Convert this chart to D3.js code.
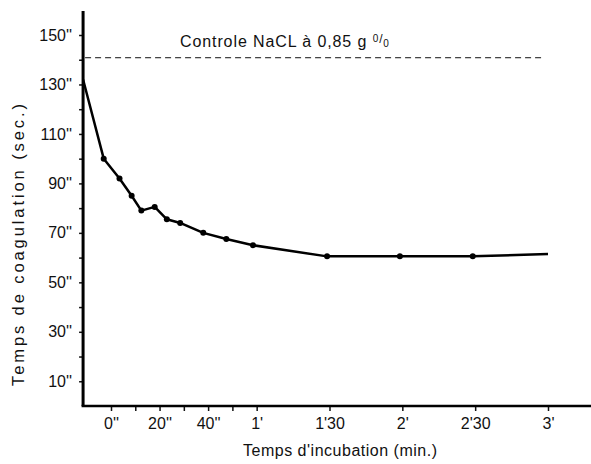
<!DOCTYPE html>
<html>
<head>
<meta charset="utf-8">
<script src="https://cdn.jsdelivr.net/npm/d3@7"></script>
<style>
  body { margin: 0; background: #fff; }
  text { font-family: "Liberation Sans", Arial, sans-serif; fill: #111; }
</style>
</head>
<body>
<script>
// incubation time in seconds, coagulation time in seconds
const times = [-11.5, -3, 3.5, 8.5, 12.5, 18, 23, 28.5, 38, 47.5, 58.5, 89, 119, 149, 180];
const coag = [132, 100, 92, 85, 79, 80.5, 75.5, 74, 70, 67.5, 65, 60.5, 60.5, 60.5, 61.5];
const control = 140;

const xTicks = [0, 10, 20, 30, 40, 50, 60, 90, 120, 150, 180];
const xLabels = { 0: "0''", 20: "20''", 40: "40''", 60: "1'", 90: "1'30", 120: "2'", 150: "2'30", 180: "3'" };
const yTicks = [10, 20, 30, 40, 50, 60, 70, 80, 90, 100, 110, 120, 130, 140, 150];
const yLabels = [10, 30, 50, 70, 90, 110, 130, 150];

const W = 591, H = 464;
const svg = d3.select('body').append('svg')
  .attr('width', W)
  .attr('height', H);

const x = d3.scaleLinear().domain([0, 180]).range([111, 548]);
const y = d3.scaleLinear().domain([0, 150]).range([406, 35]);
const x0 = x(-11.5);

// axes
const yAxis = svg.append('g')
  .attr('transform', `translate(${x0},0)`)
  .call(d3.axisLeft(y).tickValues(yTicks).tickSize(4)
    .tickFormat(d => yLabels.includes(d) ? d + "''" : ''));
yAxis.select('.domain').remove();
yAxis.selectAll('.tick line').attr('stroke', '#111').attr('stroke-width', 1.5);
yAxis.selectAll('.tick text').attr('x', -11).style('font-size', '16px');

const xAxis = svg.append('g')
  .attr('transform', `translate(0,${y(0)})`)
  .call(d3.axisBottom(x).tickValues(xTicks).tickSize(5)
    .tickFormat(d => xLabels[d] || ''));
xAxis.select('.domain').remove();
xAxis.selectAll('.tick line').attr('stroke', '#111').attr('stroke-width', 1.5);
xAxis.selectAll('.tick text').attr('y', 12).style('font-size', '16px');

// axis lines
svg.append('line')
  .attr('x1', x0).attr('x2', x0)
  .attr('y1', 11).attr('y2', y(0))
  .attr('stroke', '#000').attr('stroke-width', 3);
svg.append('line')
  .attr('x1', x0 - 1.5).attr('x2', W)
  .attr('y1', y(0)).attr('y2', y(0))
  .attr('stroke', '#000').attr('stroke-width', 2.5);

// control line
svg.append('line')
  .attr('x1', x0 + 2).attr('x2', x(178))
  .attr('y1', y(control) - 2).attr('y2', y(control) - 2)
  .attr('stroke', '#111').attr('stroke-width', 1)
  .attr('stroke-dasharray', '6,4');

const title = svg.append('text')
  .attr('x', 180).attr('y', 47)
  .style('font-size', '16px')
  .style('letter-spacing', '0.9px')
  .text('Controle NaCL à 0,85 g ');
title.append('tspan').attr('dy', -5).style('font-size', '10px').text('0');
title.append('tspan').attr('dy', 1).style('font-size', '12px').text('/');
title.append('tspan').attr('dy', 4).style('font-size', '10px').text('0');

// curve
const pts = times.map((t, i) => [t, coag[i]]);
svg.append('path')
  .datum(pts)
  .attr('fill', 'none')
  .attr('stroke', '#000')
  .attr('stroke-width', 2.5)
  .attr('stroke-linejoin', 'round')
  .attr('d', d3.line().x(d => x(d[0])).y(d => y(d[1])));

svg.selectAll('circle.pt')
  .data(pts.slice(1, -1))
  .enter()
  .append('circle')
  .attr('class', 'pt')
  .attr('cx', d => x(d[0]))
  .attr('cy', d => y(d[1]))
  .attr('r', 3)
  .attr('fill', '#000');

// axis titles
svg.append('text')
  .attr('transform', `translate(24,386) rotate(-90)`)
  .attr('textLength', 282)
  .attr('lengthAdjust', 'spacing')
  .style('font-size', '16.5px')
  .text('Temps de coagulation (sec.)');

svg.append('text')
  .attr('x', 243).attr('y', 456)
  .attr('textLength', 194)
  .attr('lengthAdjust', 'spacing')
  .style('font-size', '16px')
  .text("Temps d'incubation (min.)");
</script>
</body>
</html>
